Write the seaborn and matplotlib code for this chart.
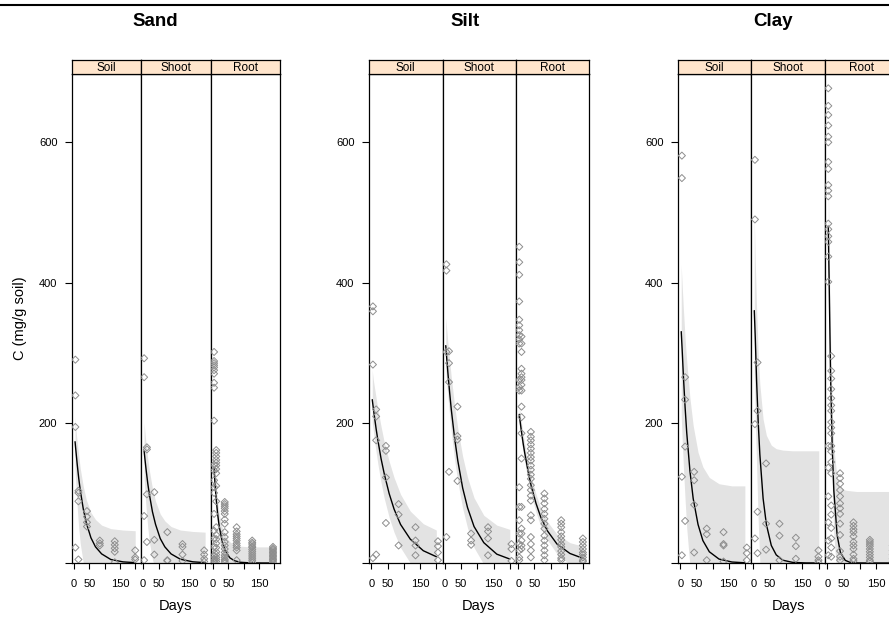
import matplotlib
matplotlib.use("Agg")
import matplotlib.pyplot as plt
from matplotlib.lines import Line2D
import pandas as pd
import seaborn as sns

# ---------------------------------------------------------------------------
# Observations: sampling day and measured C (mg/g soil) per texture and pool
# ---------------------------------------------------------------------------
textures = ["Sand", "Silt", "Clay"]
pools = ["Soil", "Shoot", "Root"]

sand_soil_days = [4, 14, 42, 84, 133, 200]
sand_soil_c = [[290, 239, 194, 22], [103, 100, 88, 5], [74, 66, 58, 52],
               [32, 28, 25], [31, 26, 21, 16, 1], [18, 8, 5]]
sand_shoot_days = [3, 12, 36, 78, 127, 197]
sand_shoot_c = [[292, 265, 67, 4], [165, 162, 98, 30], [101, 33, 12],
                [44, 4, 3], [27, 23, 12, 3], [18, 12, 6, 2]]
sand_root_days = [3, 10, 38, 77, 128, 196]
sand_root_c = [[301, 288, 285, 282, 279, 275, 270, 257, 250, 203, 140, 132, 118,
                108, 100, 70, 46, 35, 23, 11, 6, 3, 1],
               [161, 157, 152, 147, 143, 139, 134, 128, 110, 88, 51, 40, 34, 28,
                22, 16, 12, 8, 5, 2],
               [87, 84, 81, 78, 74, 70, 62, 56, 44, 37, 30, 25, 20, 15, 11, 8, 5,
                3, 1],
               [51, 45, 41, 38, 35, 32, 28, 25, 22, 18, 4],
               [32, 29, 27, 24, 22, 19, 16, 13, 10, 7, 4, 1],
               [23, 21, 19, 17, 15, 13, 11, 9, 7, 5, 3, 1]]

silt_soil_days = [5, 15, 45, 84, 136, 205]
silt_soil_c = [[366, 359, 283, 7], [219, 209, 175, 12], [167, 160, 122, 57],
               [84, 69, 25], [51, 32, 25, 11], [31, 24, 15, 4]]
silt_shoot_days = [5, 13, 39, 81, 133, 205]
silt_shoot_c = [[426, 417, 301, 37], [302, 285, 258, 130], [223, 181, 176, 117],
                [42, 32, 26], [51, 45, 35, 11], [27, 20, 3]]
silt_root_days = [3, 10, 39, 81, 133, 200]
silt_root_c = [[451, 429, 411, 373, 347, 339, 332, 325, 319, 313, 261, 251, 246,
                108, 80, 61, 42, 27, 18, 8, 4],
               [323, 313, 301, 277, 270, 265, 261, 254, 246, 223, 208, 185, 149,
                80, 49, 42, 32, 25, 20],
               [187, 180, 175, 169, 163, 157, 151, 146, 139, 133, 126, 120, 111,
                104, 96, 89, 68, 61, 37, 27, 18, 8],
               [99, 92, 85, 77, 70, 63, 56, 49, 39, 32, 25, 18, 11, 4],
               [61, 56, 51, 44, 38, 33, 27, 23, 17, 12, 7, 4],
               [35, 30, 25, 20, 15, 12, 8, 4, 2]]

clay_soil_days = [5, 15, 43, 82, 134, 206]
clay_soil_c = [[581, 549, 123, 11], [265, 233, 166, 60], [130, 118, 83, 15],
               [49, 41, 4], [44, 27, 25, 2], [22, 14, 4]]
clay_shoot_days = [5, 13, 39, 80, 130, 199]
clay_shoot_c = [[575, 490, 198, 35], [286, 217, 73, 14], [142, 56, 19],
                [56, 39, 4], [36, 24, 6], [18, 9, 4, 1]]
clay_root_days = [3, 12, 39, 80, 130, 200]
clay_root_c = [[677, 652, 639, 624, 608, 600, 572, 562, 539, 531, 523, 484, 476,
                466, 458, 437, 401, 167, 136, 95, 58, 32, 11],
               [295, 274, 263, 248, 235, 225, 217, 201, 193, 185, 167, 159, 144,
                128, 82, 69, 50, 35, 22, 9],
               [128, 121, 113, 104, 95, 85, 78, 70, 56, 40, 17, 9, 4],
               [58, 53, 48, 44, 38, 30, 25, 20, 12, 6, 3],
               [33, 30, 27, 24, 20, 16, 12, 8, 4, 2],
               [25, 18, 12, 6, 2]]

# ---------------------------------------------------------------------------
# Fitted decay curves with their uncertainty band, tabulated on fit_days
# ---------------------------------------------------------------------------
fit_days = [3, 6, 10, 15, 20, 30, 40, 55, 70, 90, 120, 160, 200]

sand_soil_fit = [173, 159, 141, 121, 104, 77, 57, 36, 23, 13, 5, 1.6, 0.5]
sand_soil_hi = [208, 190, 172, 153, 135, 109, 90, 72, 62, 54, 49, 47, 46]
sand_soil_lo = [135, 110, 80, 50, 28, 0, -15, -25, -30, -30, -30, -30, -30]
sand_shoot_fit = [160, 147, 131, 113, 98, 73, 55, 35, 23, 13, 5.4, 1.7, 0.5]
sand_shoot_hi = [200, 185, 167, 148, 132, 106, 88, 70, 60, 52, 47, 45, 44]
sand_shoot_lo = [122, 100, 75, 50, 30, 5, -10, -25, -30, -30, -30, -30, -30]
sand_root_fit = [135, 114, 91, 69, 52, 30, 17, 7.3, 3.2, 1, 0.2, 0, 0]
sand_root_hi = [150, 130, 108, 86, 70, 50, 38, 30, 26, 24, 23, 23, 23]
sand_root_lo = [120, 98, 74, 50, 34, 12, 0, -5, -10, -10, -10, -10, -10]

silt_soil_fit = [233, 222, 208, 191, 176, 149, 127, 99, 77, 55, 34, 17.5, 9]
silt_soil_hi = [275, 262, 250, 235, 220, 195, 172, 145, 122, 98, 74, 56, 47]
silt_soil_lo = [200, 190, 175, 158, 142, 115, 92, 65, 44, 22, 0, -20, -30]
silt_shoot_fit = [310, 292, 269, 243, 219, 179, 146, 107, 79, 52, 29, 12.6, 5.6]
silt_shoot_hi = [350, 333, 312, 288, 265, 225, 192, 152, 122, 93, 68, 54, 48]
silt_shoot_lo = [275, 257, 235, 210, 187, 148, 116, 78, 50, 22, -2, -20, -30]
silt_root_fit = [212, 201, 187, 171, 157, 132, 110, 85, 65, 46, 27, 13.6, 6.7]
silt_root_hi = [225, 214, 200, 184, 170, 145, 123, 98, 78, 59, 41, 29, 24]
silt_root_lo = [198, 188, 174, 158, 144, 119, 97, 72, 52, 33, 13, -2, -10]

clay_soil_fit = [330, 303, 264, 222, 186, 131, 92, 55, 32, 16, 5.6, 1.4, 0.3]
clay_soil_hi = [425, 395, 360, 320, 288, 235, 196, 158, 137, 122, 113, 110, 110]
clay_soil_lo = [210, 175, 135, 90, 50, -5, -40, -60, -60, -60, -60, -60, -60]
clay_shoot_fit = [360, 322, 261, 201, 155, 92, 55, 25, 11.6, 4, 0.9, 0.1, 0]
clay_shoot_hi = [495, 430, 365, 300, 255, 205, 182, 168, 163, 161, 160, 160, 160]
clay_shoot_lo = [270, 210, 140, 60, 0, -60, -80, -80, -80, -80, -80, -80, -80]
clay_root_fit = [480, 391, 267, 166, 103, 40, 15, 3.7, 0.9, 0.1, 0, 0, 0]
clay_root_hi = [560, 440, 320, 220, 165, 120, 108, 104, 103, 102, 102, 102, 102]
clay_root_lo = [410, 340, 210, 110, 40, -20, -40, -40, -40, -40, -40, -40, -40]

x_ticks = [0, 50, 100, 150, 200]
x_tick_labels = ["0", "50", "", "150", ""]
y_ticks = [0, 200, 400, 600]
y_tick_labels = ["", "200", "400", "600"]

panels = {
    ("Sand", "Soil"): (sand_soil_days, sand_soil_c, sand_soil_fit, sand_soil_lo, sand_soil_hi),
    ("Sand", "Shoot"): (sand_shoot_days, sand_shoot_c, sand_shoot_fit, sand_shoot_lo, sand_shoot_hi),
    ("Sand", "Root"): (sand_root_days, sand_root_c, sand_root_fit, sand_root_lo, sand_root_hi),
    ("Silt", "Soil"): (silt_soil_days, silt_soil_c, silt_soil_fit, silt_soil_lo, silt_soil_hi),
    ("Silt", "Shoot"): (silt_shoot_days, silt_shoot_c, silt_shoot_fit, silt_shoot_lo, silt_shoot_hi),
    ("Silt", "Root"): (silt_root_days, silt_root_c, silt_root_fit, silt_root_lo, silt_root_hi),
    ("Clay", "Soil"): (clay_soil_days, clay_soil_c, clay_soil_fit, clay_soil_lo, clay_soil_hi),
    ("Clay", "Shoot"): (clay_shoot_days, clay_shoot_c, clay_shoot_fit, clay_shoot_lo, clay_shoot_hi),
    ("Clay", "Root"): (clay_root_days, clay_root_c, clay_root_fit, clay_root_lo, clay_root_hi),
}

# ---------------------------------------------------------------------------
# Figure layout (pixel coordinates, origin at top-left)
# ---------------------------------------------------------------------------
sns.set_theme(style="white")
plt.rcParams["font.family"] = ["Liberation Sans", "DejaVu Sans"]
plt.rcParams["axes.linewidth"] = 0.9

W, H = 889, 619
fig = plt.figure(figsize=(W / 100, H / 100), dpi=100)


def box(x0, x1, y0, y1):
    return [x0 / W, 1 - y1 / H, (x1 - x0) / W, (y1 - y0) / H]


column_edges = {
    "Sand": [72, 141, 211, 280],
    "Silt": [369, 442.5, 516, 589],
    "Clay": [678, 751, 825, 899],
}
# each texture block is a sub-figure ~309 px wide; titles sit at its centre
block_centres = {"Sand": 155.5, "Silt": 465.0, "Clay": 773.0}
strip_top, panel_top, panel_bottom = 59.5, 74.3, 563.0

point_edge = "#8e8e8e"
band_color = "#e3e3e3"
strip_color = "#ffe5cc"

for texture in textures:
    edges = column_edges[texture]
    for j, pool in enumerate(pools):
        days, values, fit, lo, hi = panels[(texture, pool)]
        obs = pd.DataFrame(
            [(d, v) for d, vals in zip(days, values) for v in vals],
            columns=["Days", "C"],
        )

        ax = fig.add_axes(box(edges[j], edges[j + 1], panel_top, panel_bottom))
        ax.fill_between(fit_days, lo, hi, color=band_color, lw=0, zorder=1)
        sns.lineplot(x=fit_days, y=fit, color="black", linewidth=1.0,
                     estimator=None, sort=False, ax=ax, zorder=2)
        sns.scatterplot(data=obs, x="Days", y="C", marker="D", s=13,
                        facecolors="none", edgecolor=point_edge, linewidth=0.7,
                        legend=False, ax=ax, zorder=3)

        ax.set_xlim(-7, 219)
        ax.set_ylim(0, 697)
        ax.set_xlabel("")
        ax.set_ylabel("")
        ax.set_facecolor("white")
        for sp in ax.spines.values():
            sp.set_color("black")
            sp.set_linewidth(0.9)

        ax.set_xticks(x_ticks)
        ax.set_xticklabels(x_tick_labels)
        ax.tick_params(axis="x", direction="out", length=4.5, width=0.8,
                       pad=7, labelsize=8, colors="black", bottom=True)
        if j == 0:
            ax.set_yticks(y_ticks)
            ax.set_yticklabels(y_tick_labels)
            ax.tick_params(axis="y", direction="out", length=5, width=0.8,
                           pad=5.5, labelsize=8, colors="black", left=True)
        else:
            ax.set_yticks([])

        # strip with the pool name
        sax = fig.add_axes(box(edges[j], edges[j + 1], strip_top, panel_top))
        sax.set_facecolor(strip_color)
        sax.set_xticks([])
        sax.set_yticks([])
        for sp in sax.spines.values():
            sp.set_color("black")
            sp.set_linewidth(0.9)
        sax.text(0.5, 0.45, pool, ha="center", va="center", fontsize=8.5,
                 transform=sax.transAxes, color="black")

    cx = (edges[0] + edges[-1]) / 2
    fig.text(block_centres[texture] / W, 1 - 21.5 / H, texture, ha="center",
             va="center", fontsize=13.5, fontweight="bold", color="black")
    fig.text(cx / W, 1 - 606 / H, "Days", ha="center", va="center",
             fontsize=10.5, color="black")

fig.text(20 / W, 1 - 318 / H, "C (mg/g soil)", rotation=90, ha="center",
         va="center", fontsize=10.5, color="black")

fig.add_artist(Line2D([0, 1], [1 - 5 / H, 1 - 5 / H], color="black", lw=1.5,
                      transform=fig.transFigure))

fig.savefig("out.png", dpi=100)
